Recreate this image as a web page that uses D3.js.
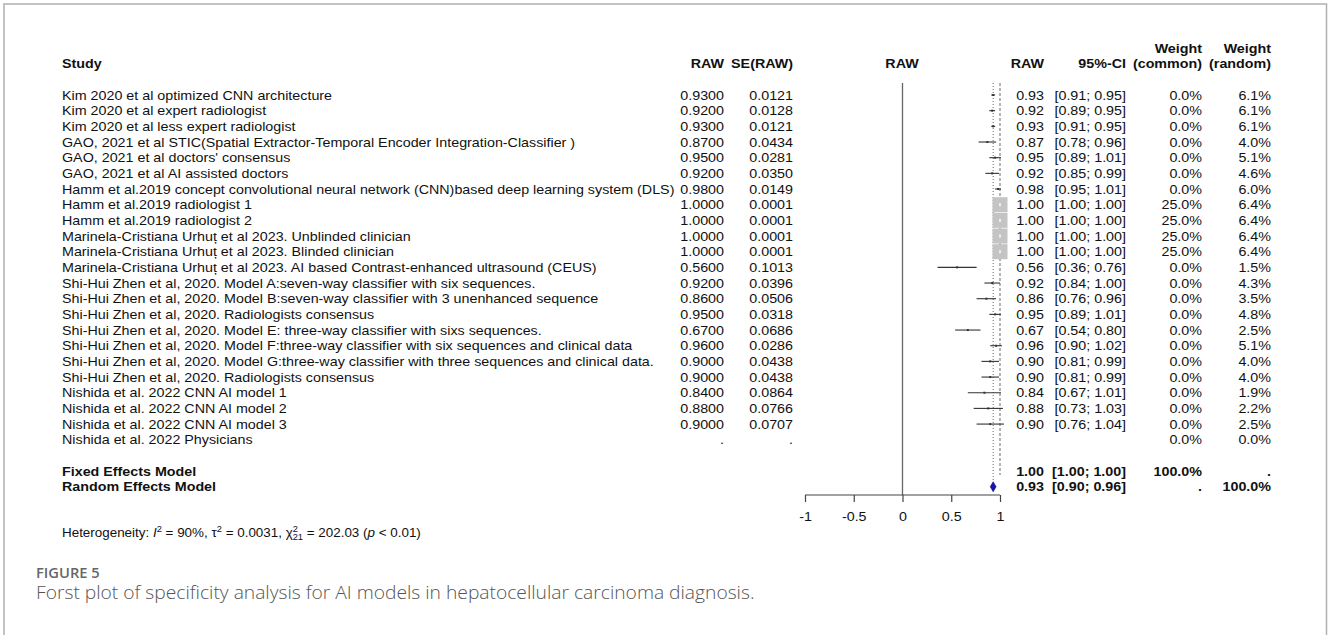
<!DOCTYPE html>
<html>
<head>
<meta charset="utf-8">
<script src="https://cdn.jsdelivr.net/npm/d3@7"></script>
<style>
  body { margin: 0; background: #fff; }
</style>
</head>
<body>
<svg id="canvas" width="1328" height="635"></svg>
<script>
// ###############
// data
// ###############
var studies = [
  "Kim 2020 et al optimized CNN architecture",
  "Kim 2020 et al expert radiologist",
  "Kim 2020 et al less expert radiologist",
  "GAO, 2021 et al STIC(Spatial Extractor-Temporal Encoder Integration-Classifier )",
  "GAO, 2021 et al doctors' consensus",
  "GAO, 2021 et al AI assisted doctors",
  "Hamm et al.2019 concept convolutional neural network (CNN)based deep learning system (DLS)",
  "Hamm et al.2019 radiologist 1",
  "Hamm et al.2019 radiologist 2",
  "Marinela-Cristiana Urhuț et al 2023. Unblinded clinician",
  "Marinela-Cristiana Urhuț et al 2023. Blinded clinician",
  "Marinela-Cristiana Urhuț et al 2023. AI based Contrast-enhanced ultrasound (CEUS)",
  "Shi-Hui Zhen et al, 2020. Model A:seven-way classifier with six sequences.",
  "Shi-Hui Zhen et al, 2020. Model B:seven-way classifier with 3 unenhanced sequence",
  "Shi-Hui Zhen et al, 2020. Radiologists consensus",
  "Shi-Hui Zhen et al, 2020. Model E: three-way classifier with sixs sequences.",
  "Shi-Hui Zhen et al, 2020. Model F:three-way classifier with six sequences and clinical data",
  "Shi-Hui Zhen et al, 2020. Model G:three-way classifier with three sequences and clinical data.",
  "Shi-Hui Zhen et al, 2020. Radiologists consensus",
  "Nishida et al. 2022 CNN AI model 1",
  "Nishida et al. 2022 CNN AI model 2",
  "Nishida et al. 2022 CNN AI model 3",
  "Nishida et al. 2022 Physicians"
];
var raw    = [0.93, 0.92, 0.93, 0.87, 0.95, 0.92, 0.98, 1.00, 1.00, 1.00, 1.00, 0.56, 0.92, 0.86, 0.95, 0.67, 0.96, 0.90, 0.90, 0.84, 0.88, 0.90, null];
var seRaw  = [0.0121, 0.0128, 0.0121, 0.0434, 0.0281, 0.0350, 0.0149, 0.0001, 0.0001, 0.0001, 0.0001, 0.1013, 0.0396, 0.0506, 0.0318, 0.0686, 0.0286, 0.0438, 0.0438, 0.0864, 0.0766, 0.0707, null];
var ciLow  = [0.91, 0.89, 0.91, 0.78, 0.89, 0.85, 0.95, 1.00, 1.00, 1.00, 1.00, 0.36, 0.84, 0.76, 0.89, 0.54, 0.90, 0.81, 0.81, 0.67, 0.73, 0.76, null];
var ciHigh = [0.95, 0.95, 0.95, 0.96, 1.01, 0.99, 1.01, 1.00, 1.00, 1.00, 1.00, 0.76, 1.00, 0.96, 1.01, 0.80, 1.02, 0.99, 0.99, 1.01, 1.03, 1.04, null];
var weightCommon = [0, 0, 0, 0, 0, 0, 0, 25, 25, 25, 25, 0, 0, 0, 0, 0, 0, 0, 0, 0, 0, 0, 0];
var weightRandom = [6.1, 6.1, 6.1, 4.0, 5.1, 4.6, 6.0, 6.4, 6.4, 6.4, 6.4, 1.5, 4.3, 3.5, 4.8, 2.5, 5.1, 4.0, 4.0, 1.9, 2.2, 2.5, 0.0];

var modelNames  = ["Fixed Effects Model", "Random Effects Model"];
var modelEst    = [1.00, 0.93];
var modelLow    = [1.00, 0.90];
var modelHigh   = [1.00, 0.96];
var modelWCommon = ["100.0%", "."];
var modelWRandom = [".", "100.0%"];

var axisTicks = [-1, -0.5, 0, 0.5, 1];

// ###############
// layout
// ###############
var svg = d3.select("#canvas");
var x = d3.scaleLinear().domain([-1, 1]).range([805, 1000]);
var rowY = function(i) { return 95 + i * 15.67; };   // i = row index, header rows negative
var fs = 13;
var stretch = 1.1;   // the figure's text is a bit wider than it is tall
var sans = "'Liberation Sans', Arial, sans-serif";

// frame around the figure
svg.append("path")
  .attr("d", "M4,635 V4 H1326.5 V635")
  .attr("fill", "none").attr("stroke", "#b0b0b0").attr("stroke-width", 1.5);

var g = svg.append("g");

function txt(xp, yp, s, anchor, bold) {
  return g.append("text")
    .attr("transform", "translate(" + xp + "," + yp + ") scale(" + stretch + ",1)")
    .attr("dy", "0.36em")
    .attr("text-anchor", anchor || "start")
    .style("font-family", sans)
    .style("font-size", fs + "px")
    .style("font-weight", bold ? "bold" : "normal")
    .style("fill", "#111")
    .text(s);
}
var f2 = d3.format(".2f"), f4 = d3.format(".4f"), f1 = d3.format(".1f");

// column headers
txt(62, rowY(-2), "Study", "start", true);
txt(724, rowY(-2), "RAW", "end", true);
txt(793, rowY(-2), "SE(RAW)", "end", true);
txt(902, rowY(-2), "RAW", "middle", true);
txt(1044, rowY(-2), "RAW", "end", true);
txt(1126, rowY(-2), "95%-CI", "end", true);
txt(1202, rowY(-3), "Weight", "end", true);
txt(1202, rowY(-2), "(common)", "end", true);
txt(1271, rowY(-3), "Weight", "end", true);
txt(1271, rowY(-2), "(random)", "end", true);

// study rows (text columns)
studies.forEach(function(s, i) {
  var y = rowY(i);
  txt(62, y, s);
  txt(724, y, raw[i] == null ? "." : f4(raw[i]), "end");
  txt(793, y, seRaw[i] == null ? "." : f4(seRaw[i]), "end");
  if (raw[i] != null) {
    txt(1044, y, f2(raw[i]), "end");
    txt(1126, y, "[" + f2(ciLow[i]) + "; " + f2(ciHigh[i]) + "]", "end");
  }
  txt(1202, y, f1(weightCommon[i]) + "%", "end");
  txt(1271, y, f1(weightRandom[i]) + "%", "end");
});

// pooled rows
modelNames.forEach(function(s, j) {
  var y = rowY(24 + j);
  txt(62, y, s, "start", true);
  txt(1044, y, f2(modelEst[j]), "end", true);
  txt(1126, y, "[" + f2(modelLow[j]) + "; " + f2(modelHigh[j]) + "]", "end", true);
  txt(1202, y, modelWCommon[j], "end", true);
  txt(1271, y, modelWRandom[j], "end", true);
});

// ###############
// the forest part
// ###############
var yTop = rowY(0) - 12;

// line of no effect
g.append("line")
  .attr("x1", x(0)).attr("x2", x(0))
  .attr("y1", yTop).attr("y2", 495)
  .attr("stroke", "#666").attr("stroke-width", 1.3);

// fixed effect (dashed) and random effect (dotted) reference lines
g.append("line")
  .attr("x1", x(modelEst[0])).attr("x2", x(modelEst[0]))
  .attr("y1", yTop).attr("y2", rowY(24) + 4)
  .attr("stroke", "#777").attr("stroke-width", 1.1)
  .attr("stroke-dasharray", "3,2");
g.append("line")
  .attr("x1", x(modelEst[1])).attr("x2", x(modelEst[1]))
  .attr("y1", yTop).attr("y2", rowY(25) - 5)
  .attr("stroke", "#777").attr("stroke-width", 1.1)
  .attr("stroke-dasharray", "1,2");

// boxes sized by common weight, CI whiskers
var boxSize = d3.scaleSqrt().domain([0, 25]).range([0, 15]);
var rows = d3.range(studies.length).filter(function(i) { return raw[i] != null; });

var marks = g.append("g").selectAll("g").data(rows).enter().append("g");

marks.append("line")
  .attr("x1", function(i) { return x(ciLow[i]); })
  .attr("x2", function(i) { return x(ciHigh[i]); })
  .attr("y1", function(i) { return rowY(i); })
  .attr("y2", function(i) { return rowY(i); })
  .attr("stroke", "#333").attr("stroke-width", 1.1);

marks.append("rect")
  .attr("x", function(i) { return x(raw[i]) - Math.max(boxSize(weightCommon[i]), 2) / 2; })
  .attr("y", function(i) { return rowY(i) - Math.max(boxSize(weightCommon[i]), 2) / 2; })
  .attr("width", function(i) { return Math.max(boxSize(weightCommon[i]), 2); })
  .attr("height", function(i) { return Math.max(boxSize(weightCommon[i]), 2); })
  .attr("fill", function(i) { return weightCommon[i] > 0 ? "#c4c4c4" : "#333"; });

// tiny white tick inside the big boxes (CI drawn inside box)
marks.filter(function(i) { return weightCommon[i] > 0; })
  .append("rect")
  .attr("x", function(i) { return x(raw[i]) - 1; })
  .attr("y", function(i) { return rowY(i) - 1.5; })
  .attr("width", 2).attr("height", 3)
  .attr("fill", "#eee");

// random effects diamond
var dy = rowY(25);
g.append("path")
  .attr("d", "M" + x(modelLow[1]) + "," + dy +
             " L" + x(modelEst[1]) + "," + (dy - 5) +
             " L" + x(modelHigh[1]) + "," + dy +
             " L" + x(modelEst[1]) + "," + (dy + 5) + " Z")
  .attr("fill", "#1515b0").attr("stroke", "#0a0a80").attr("stroke-width", 0.6);

// x axis, ticks point down
var xAxis = d3.axisBottom(x).tickValues(axisTicks).tickSize(7).tickPadding(10)
  .tickFormat(function(d) { return d3.format("")(d).replace("\u2212", "-"); });
var ax = svg.append("g").attr("transform", "translate(0,495)").call(xAxis);
ax.select(".domain").attr("stroke", "#444").attr("stroke-width", 1.2)
  .attr("d", "M" + x(-1) + ",0 H" + x(1));
ax.selectAll(".tick line").attr("stroke", "#444").attr("stroke-width", 1.2);
ax.selectAll(".tick text")
  .style("font-family", sans).style("font-size", fs + "px").style("fill", "#111")
  .attr("transform", "scale(" + stretch + ",1)");

// heterogeneity line
var het = g.append("text")
  .attr("transform", "translate(62,537) scale(" + stretch + ",1)")
  .style("font-family", sans).style("font-size", "12.2px").style("fill", "#111");
het.append("tspan").text("Heterogeneity: ");
het.append("tspan").style("font-style", "italic").text("I");
het.append("tspan").style("font-size", "8.5px").attr("dy", -5).text("2");
het.append("tspan").attr("dy", 5).text(" = 90%, \u03c4");
het.append("tspan").style("font-size", "8.5px").attr("dy", -5).text("2");
het.append("tspan").attr("dy", 5).text(" = 0.0031, \u03c7");
het.append("tspan").style("font-size", "8.5px").attr("dy", -5).text("2");
het.append("tspan").style("font-size", "8.5px").attr("dx", -4.8).attr("dy", 8).text("21");
het.append("tspan").attr("dy", -3).text(" = 202.03 (");
het.append("tspan").style("font-style", "italic").text("p");
het.append("tspan").text(" < 0.01)");

// ###############
// caption
// ###############
svg.append("text").attr("transform", "translate(36,578) scale(1.05,1)")
  .style("font-family", "'Open Sans', sans-serif").style("font-size", "14px")
  .style("font-weight", 600).style("fill", "#666").text("FIGURE 5");
svg.append("text").attr("transform", "translate(36,599) scale(1.1,1)")
  .style("font-family", "'Open Sans', sans-serif").style("font-size", "17.5px")
  .style("font-weight", 300).style("fill", "#555")
  .text("Forst plot of specificity analysis for AI models in hepatocellular carcinoma diagnosis.");
</script>
</body>
</html>
